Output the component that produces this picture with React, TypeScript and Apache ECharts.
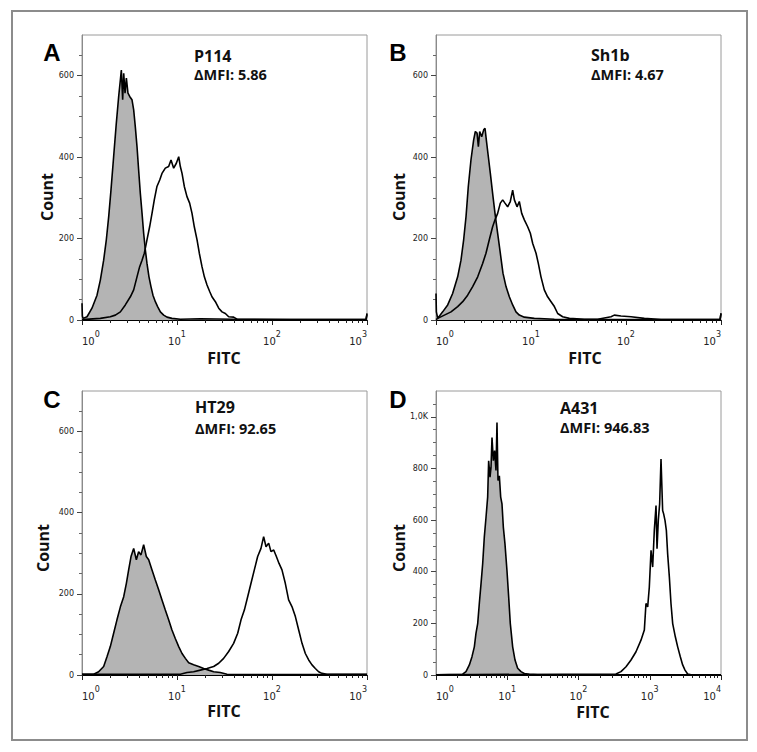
import React, { useEffect, useRef } from "react";
import * as echarts from "echarts";

// ---------- data (x = log10 FITC intensity, y = count) ----------
// Panel A – P114
const aIsoLog = [0, 0.004, 0.011, 0.053, 0.105, 0.158, 0.193, 0.228, 0.256, 0.281, 0.305, 0.333, 0.361, 0.386, 0.404, 0.414, 0.428, 0.439, 0.453, 0.467, 0.484, 0.502, 0.526, 0.544, 0.561, 0.579, 0.596, 0.614, 0.632, 0.649, 0.667, 0.684, 0.705, 0.726, 0.747, 0.772, 0.796, 0.825, 0.86, 0.895, 0.947, 1.035, 1.246, 1.596, 2.2, 2.99, 3.0];
const aIsoCount = [41, 10, 4, 8, 29, 61, 98, 147, 197, 254, 319, 401, 483, 549, 590, 614, 541, 606, 557, 594, 557, 549, 541, 516, 475, 426, 369, 311, 262, 213, 172, 139, 106, 82, 61, 45, 33, 20, 12, 7, 4, 2, 3, 2, 1, 2, 16];
const aAbLog = [0, 0.193, 0.298, 0.351, 0.404, 0.456, 0.509, 0.544, 0.579, 0.607, 0.632, 0.656, 0.684, 0.712, 0.737, 0.761, 0.789, 0.818, 0.842, 0.877, 0.912, 0.937, 0.965, 0.993, 1.018, 1.035, 1.053, 1.077, 1.105, 1.133, 1.158, 1.182, 1.211, 1.235, 1.263, 1.288, 1.316, 1.344, 1.368, 1.404, 1.439, 1.474, 1.509, 1.544, 1.596, 1.632, 1.702, 2.3, 2.99, 3.0];
const aAbCount = [1, 4, 8, 12, 20, 37, 57, 74, 106, 131, 147, 164, 197, 229, 262, 295, 328, 344, 360, 373, 377, 393, 373, 385, 401, 377, 360, 328, 303, 287, 262, 229, 197, 164, 131, 106, 86, 70, 57, 45, 29, 20, 16, 8, 7, 2, 1, 1, 1, 14];

// Panel B – Sh1b
const bIsoLog = [0, 0.004, 0.018, 0.07, 0.123, 0.175, 0.228, 0.263, 0.291, 0.316, 0.34, 0.368, 0.396, 0.414, 0.432, 0.446, 0.46, 0.481, 0.502, 0.516, 0.53, 0.551, 0.572, 0.596, 0.621, 0.649, 0.677, 0.705, 0.737, 0.772, 0.807, 0.842, 0.877, 0.93, 1.035, 1.246, 1.8, 2.5, 2.99, 3.0];
const bIsoCount = [65, 20, 4, 20, 37, 65, 106, 147, 197, 254, 328, 393, 442, 463, 459, 426, 463, 450, 467, 471, 442, 401, 360, 311, 262, 213, 164, 115, 82, 57, 37, 20, 12, 7, 4, 2, 1, 1, 1, 16];
const bAbLog = [0, 0.018, 0.088, 0.158, 0.228, 0.281, 0.333, 0.386, 0.439, 0.491, 0.526, 0.561, 0.596, 0.621, 0.649, 0.677, 0.702, 0.726, 0.754, 0.782, 0.807, 0.825, 0.853, 0.877, 0.902, 0.93, 0.965, 0.993, 1.018, 1.053, 1.077, 1.105, 1.14, 1.175, 1.211, 1.246, 1.281, 1.333, 1.404, 1.561, 1.702, 1.842, 1.877, 1.947, 2.053, 2.193, 2.368, 2.99, 3.0];
const bAbCount = [1, 4, 12, 20, 33, 45, 61, 82, 106, 139, 164, 197, 229, 246, 262, 287, 295, 287, 278, 291, 319, 295, 278, 291, 262, 246, 229, 213, 188, 164, 139, 106, 74, 57, 45, 33, 16, 8, 4, 2, 2, 8, 12, 10, 8, 4, 1, 1, 16];

// Panel C – HT29
const cIsoLog = [0, 0.123, 0.175, 0.228, 0.263, 0.298, 0.333, 0.368, 0.404, 0.439, 0.467, 0.491, 0.516, 0.544, 0.572, 0.596, 0.621, 0.649, 0.677, 0.702, 0.737, 0.772, 0.807, 0.842, 0.877, 0.912, 0.947, 0.982, 1.018, 1.053, 1.088, 1.123, 1.175, 1.228, 1.281, 1.333, 1.386, 1.456, 1.526, 1.667, 2.5, 3.0];
const cIsoCount = [2, 2, 8, 21, 45, 70, 103, 136, 168, 193, 226, 259, 292, 312, 284, 304, 296, 321, 292, 284, 259, 234, 210, 185, 160, 136, 111, 90, 70, 53, 41, 30, 25, 21, 16, 12, 8, 6, 2, 1, 1, 1];
const cAbLog = [0, 1.035, 1.105, 1.175, 1.246, 1.316, 1.386, 1.439, 1.491, 1.544, 1.596, 1.639, 1.674, 1.709, 1.744, 1.779, 1.814, 1.849, 1.884, 1.912, 1.937, 1.965, 1.989, 2.018, 2.046, 2.074, 2.105, 2.14, 2.175, 2.211, 2.246, 2.281, 2.316, 2.351, 2.386, 2.421, 2.456, 2.491, 2.526, 2.579, 3.0];
const cAbCount = [2, 2, 6, 8, 12, 16, 21, 29, 41, 58, 78, 103, 136, 160, 193, 226, 259, 292, 312, 341, 316, 325, 304, 308, 292, 275, 259, 226, 185, 168, 144, 111, 78, 53, 37, 25, 16, 8, 4, 2, 2];

// Panel D – A431
const dIsoLog = [0, 0.374, 0.421, 0.468, 0.505, 0.538, 0.561, 0.585, 0.608, 0.632, 0.655, 0.678, 0.702, 0.725, 0.739, 0.758, 0.772, 0.786, 0.805, 0.823, 0.842, 0.856, 0.87, 0.889, 0.908, 0.926, 0.945, 0.968, 0.996, 1.02, 1.043, 1.076, 1.109, 1.146, 1.193, 1.24, 1.31, 1.427, 2.0, 4.0];
const dIsoCount = [1, 3, 13, 39, 71, 109, 161, 199, 277, 354, 431, 534, 611, 689, 830, 766, 804, 920, 830, 869, 792, 978, 753, 772, 689, 663, 573, 508, 405, 302, 199, 109, 58, 26, 13, 6, 3, 1, 1, 1];
const dAbLog = [0, 2.526, 2.596, 2.667, 2.737, 2.807, 2.877, 2.924, 2.947, 2.971, 2.994, 3.018, 3.041, 3.064, 3.088, 3.102, 3.12, 3.139, 3.158, 3.181, 3.195, 3.214, 3.233, 3.251, 3.275, 3.298, 3.322, 3.359, 3.392, 3.429, 3.462, 3.495, 3.532, 3.579, 4.0];
const dAbCount = [1, 4, 13, 32, 58, 90, 135, 174, 277, 264, 341, 483, 418, 560, 656, 489, 599, 663, 837, 637, 624, 599, 560, 470, 380, 277, 199, 148, 109, 71, 39, 19, 4, 1, 1];

const panelLetters = ["A", "B", "C", "D"];
const sampleNames = ["P114", "Sh1b", "HT29", "A431"];
const deltaMFI = ["5.86", "4.67", "92.65", "946.83"];
const yMax = [700, 700, 700, 1100];
const xDecades = [3, 3, 3, 4];
const yTicksSmall = [0, 200, 400, 600];
const yTicksLarge = [0, 200, 400, 600, 800, 1000];

const isoSets = [
  [aIsoLog, aIsoCount],
  [bIsoLog, bIsoCount],
  [cIsoLog, cIsoCount],
  [dIsoLog, dIsoCount],
];
const abSets = [
  [aAbLog, aAbCount],
  [bAbLog, bAbCount],
  [cAbLog, cAbCount],
  [dAbLog, dAbCount],
];

// ---------- layout ----------
const grids = [
  { left: 82, top: 35, width: 285, height: 285 },
  { left: 436, top: 35, width: 285, height: 285 },
  { left: 82, top: 391, width: 285, height: 284 },
  { left: 436, top: 391, width: 285, height: 284 },
];
const letterPos = [[52, 52], [398, 52], [52, 399], [398, 399]];
const namePos = [[194, 55.5, 74.5], [591, 55, 74], [195, 407, 428], [560, 407.5, 427.5]];
const countPos = [[47, 197], [399, 197], [43, 548], [399, 548]];
const fitcPos = [[224, 358], [585, 358], [224, 711], [593, 712]];

const TITLE_FONT = '"Open Sans", "Noto Sans", sans-serif';
const TICK_FONT = '"DejaVu Sans", sans-serif';

function buildOption() {
  const xAxis: any[] = [];
  const yAxis: any[] = [];
  const series: any[] = [];
  const graphic: any[] = [];

  grids.forEach((g, i) => {
    const dec = xDecades[i];
    const majorX: number[] = [];
    const minorX: number[] = [];
    for (let n = 0; n <= dec; n++) {
      majorX.push(n);
      if (n < dec) for (let k = 2; k <= 9; k++) minorX.push(n + Math.log10(k));
    }
    const yMajor = yMax[i] > 800 ? yTicksLarge : yTicksSmall;
    const yMinor: number[] = [];
    for (let v = 50; v < yMax[i]; v += 50) if (v % 200 !== 0) yMinor.push(v);

    xAxis.push({
      gridIndex: i,
      type: "value",
      position: "bottom",
      min: 0,
      max: dec,
      axisLine: { show: true, onZero: false, lineStyle: { color: "#000", width: 1 } },
      axisTick: { show: true, length: 5, customValues: majorX, lineStyle: { color: "#222", width: 1 } },
      axisLabel: {
        customValues: majorX,
        margin: 16,
        alignMinLabel: "left",
        alignMaxLabel: "right",
        formatter: (v: number) => `{b|10}{s|${Math.round(v)}}`,
        rich: {
          b: { fontSize: 10, lineHeight: 10, fontFamily: TICK_FONT, color: "#222" },
          s: { fontSize: 8, lineHeight: 10, fontFamily: TICK_FONT, color: "#222", padding: [0, 0, 14, 0] },
        },
      },
      splitLine: { show: false },
    });
    xAxis.push({
      gridIndex: i,
      type: "value",
      position: "bottom",
      min: 0,
      max: dec,
      axisLine: { show: false },
      axisTick: { show: true, length: 3, customValues: minorX, lineStyle: { color: "#222", width: 1 } },
      axisLabel: { show: false },
      splitLine: { show: false },
    });
    yAxis.push({
      gridIndex: i,
      type: "value",
      position: "left",
      min: 0,
      max: yMax[i],
      axisLine: { show: true, onZero: false, lineStyle: { color: "#8a8a8a", width: 1 } },
      axisTick: { show: true, length: 5, customValues: yMajor, lineStyle: { color: "#444", width: 1 } },
      axisLabel: {
        customValues: yMajor,
        margin: 8,
        fontSize: 8,
        fontFamily: TICK_FONT,
        color: "#222",
        formatter: (v: number) => (v === 1000 ? "1,0K" : String(v)),
      },
      splitLine: { show: false },
    });
    yAxis.push({
      gridIndex: i,
      type: "value",
      position: "left",
      min: 0,
      max: yMax[i],
      axisLine: { show: false },
      axisTick: { show: true, length: 3, customValues: yMinor, lineStyle: { color: "#666", width: 1 } },
      axisLabel: { show: false },
      splitLine: { show: false },
    });

    const [isoX, isoY] = isoSets[i];
    const [abX, abY] = abSets[i];
    series.push({
      type: "line",
      name: sampleNames[i] + " isotype",
      xAxisIndex: 2 * i,
      yAxisIndex: 2 * i,
      data: isoX.map((x, j) => [x, isoY[j]]),
      symbol: "none",
      lineStyle: { color: "#000", width: 1.6 },
      areaStyle: { color: "#b4b4b4", opacity: 1, origin: "start" },
      z: 2,
      silent: true,
    });
    series.push({
      type: "line",
      name: sampleNames[i],
      xAxisIndex: 2 * i,
      yAxisIndex: 2 * i,
      data: abX.map((x, j) => [x, abY[j]]),
      symbol: "none",
      lineStyle: { color: "#000", width: 1.6 },
      z: 3,
      silent: true,
    });

    graphic.push({
      type: "text",
      x: letterPos[i][0],
      y: letterPos[i][1],
      style: { text: panelLetters[i], font: 'bold 24px "Liberation Sans", Arial, sans-serif', fill: "#000", align: "center", verticalAlign: "middle" },
    });
    graphic.push({
      type: "text",
      x: namePos[i][0],
      y: namePos[i][1],
      style: { text: sampleNames[i], font: `bold 16px ${TITLE_FONT}`, fill: "#111", align: "left", verticalAlign: "middle" },
    });
    graphic.push({
      type: "text",
      x: namePos[i][0],
      y: namePos[i][2],
      style: { text: "ΔMFI: " + deltaMFI[i], font: `bold 14.5px ${TITLE_FONT}`, fill: "#111", align: "left", verticalAlign: "middle" },
    });
    graphic.push({
      type: "text",
      x: countPos[i][0],
      y: countPos[i][1],
      rotation: Math.PI / 2,
      style: { text: "Count", font: `bold 16px ${TITLE_FONT}`, fill: "#111", align: "center", verticalAlign: "middle" },
    });
    graphic.push({
      type: "text",
      x: fitcPos[i][0],
      y: fitcPos[i][1],
      style: { text: "FITC", font: `bold 16px ${TITLE_FONT}`, fill: "#111", align: "center", verticalAlign: "middle" },
    });
  });

  graphic.push({
    type: "rect",
    shape: { x: 12, y: 11, width: 735, height: 729 },
    style: { fill: "none", stroke: "#8c8c8c", lineWidth: 2 },
    z: -1,
  });

  return {
    animation: false,
    backgroundColor: "#fff",
    grid: grids.map((g) => ({ ...g, show: true, borderColor: "#9a9a9a", borderWidth: 1, backgroundColor: "transparent" })),
    xAxis,
    yAxis,
    series,
    graphic,
  };
}

export default function App() {
  const ref = useRef<HTMLDivElement>(null);
  useEffect(() => {
    if (!ref.current) return;
    const chart = echarts.init(ref.current, undefined, { renderer: "svg" });
    chart.setOption(buildOption() as any);
    return () => chart.dispose();
  }, []);
  return (
    <div
      ref={ref}
      style={{ position: "fixed", left: 0, top: 0, width: 757, height: 752, background: "#fff" }}
    />
  );
}
